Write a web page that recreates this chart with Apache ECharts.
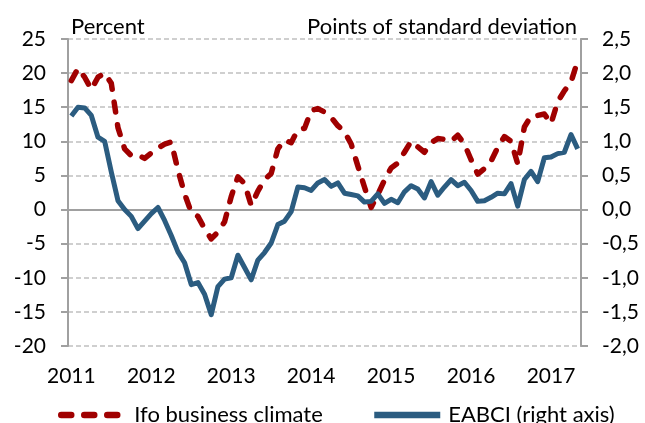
<!DOCTYPE html>
<html>
<head>
<meta charset="utf-8">
<script src="https://cdn.jsdelivr.net/npm/echarts@6/dist/echarts.min.js"></script>
<style>
  html, body { margin: 0; padding: 0; background: #fff; }
  #chart { width: 645px; height: 423px; }
</style>
</head>
<body>
<div id="chart"></div>
<script>
// monthly, Jan 2011 - May 2017
const years = ["2011", "2012", "2013", "2014", "2015", "2016", "2017"];
const months = [];
years.forEach((y) => {
  for (let m = 1; m <= 12; m++) {
    if (months.length < 77) months.push(y + "-" + (m < 10 ? "0" + m : m));
  }
});

// Ifo business climate, percent (left axis)
const ifo = [
  18.9, 20.7, 19.4, 17.6, 19.4, 20.0, 18.5, 12.0, 8.9, 7.9, 8.0, 7.5,
  8.3, 9.0, 9.6, 9.9, 5.8, 2.3, -0.4, -1.0, -2.8, -4.3, -3.3, -1.8,
  1.9, 4.8, 3.8, 0.6, 2.7, 4.4, 5.3, 8.9, 10.2, 9.8, 11.7, 11.9,
  14.5, 14.8, 14.3, 13.5, 12.3, 11.4, 9.6, 6.4, 3.3, 0.3, 2.2, 4.3,
  6.1, 6.8, 8.4, 10.0, 9.2, 8.4, 9.8, 10.4, 10.3, 10.0, 10.9, 9.6,
  7.3, 5.2, 6.0, 7.1, 9.1, 10.7, 10.0, 6.7, 12.1, 13.7, 13.8, 14.0,
  12.6, 15.8, 17.4, 18.7, 21.8,
];

// EABCI, points of standard deviation (right axis)
const eabci = [
  1.37, 1.50, 1.49, 1.38, 1.06, 1.00, 0.55, 0.13, 0.00, -0.10, -0.28, -0.17,
  -0.06, 0.03, -0.16, -0.38, -0.62, -0.78, -1.10, -1.07, -1.24, -1.54, -1.13, -1.02,
  -1.00, -0.67, -0.85, -1.03, -0.74, -0.63, -0.49, -0.22, -0.17, -0.03, 0.33, 0.32,
  0.28, 0.39, 0.44, 0.34, 0.39, 0.24, 0.22, 0.20, 0.11, 0.12, 0.23, 0.09,
  0.15, 0.10, 0.26, 0.35, 0.30, 0.17, 0.41, 0.21, 0.33, 0.44, 0.35, 0.40,
  0.28, 0.12, 0.13, 0.18, 0.24, 0.23, 0.38, 0.05, 0.44, 0.56, 0.41, 0.76,
  0.77, 0.82, 0.84, 1.10, 0.89,
];

const axisGray = "#a0a0a0";
const font = "Lato";

const chart = echarts.init(document.getElementById("chart"));

const option = {
  animation: false,
  textStyle: { fontFamily: font, color: "#000" },
  grid: { left: 68, right: 64, top: 39, bottom: 77 },
  graphic: [
    {
      type: "text",
      left: 71,
      top: 16,
      style: { text: "Percent", font: "22px " + font, fill: "#000" },
    },
    {
      type: "text",
      right: 68,
      top: 16,
      style: { text: "Points of standard deviation", font: "22px " + font, fill: "#000" },
    },
  ],
  legend: [
    {
      left: 58,
      top: 404,
      padding: 0,
      itemWidth: 56,
      itemHeight: 14,
      data: ["Ifo business climate"],
      itemStyle: { opacity: 0 },
      lineStyle: { width: 6.5 },
      textStyle: { fontSize: 22, color: "#000", padding: [0, 0, 0, 12] },
    },
    {
      left: 371,
      top: 404,
      padding: 0,
      itemWidth: 66,
      itemHeight: 14,
      data: ["EABCI (right axis)"],
      itemStyle: { opacity: 0 },
      lineStyle: { width: 6.5 },
      textStyle: { fontSize: 22, color: "#000", padding: [0, 0, 0, 3] },
    },
  ],
  xAxis: [
    {
      type: "category",
      data: months,
      boundaryGap: true,
      axisLine: { onZero: true, lineStyle: { color: axisGray, width: 2 } },
      axisTick: { interval: 11, length: 8, lineStyle: { color: axisGray, width: 2 } },
      axisLabel: { show: false },
    },
    {
      type: "category",
      data: months,
      position: "bottom",
      boundaryGap: true,
      axisLine: { show: false, onZero: false },
      axisTick: { show: false },
      axisLabel: {
        interval: 11,
        margin: 20,
        fontSize: 21,
        color: "#000",
        formatter: (v) => v.slice(0, 4),
      },
    },
  ],
  yAxis: [
    {
      type: "value",
      min: -20,
      max: 25,
      interval: 5,
      axisLine: { show: true, lineStyle: { color: axisGray, width: 2 } },
      axisTick: { show: true, length: 7, lineStyle: { color: axisGray, width: 2 } },
      axisLabel: { margin: 22, fontSize: 21, color: "#000" },
      splitLine: { lineStyle: { color: "#c0c0c0", width: 1.5, type: [5, 3] } },
    },
    {
      type: "value",
      position: "right",
      min: -2,
      max: 2.5,
      interval: 0.5,
      axisLine: { show: true, lineStyle: { color: axisGray, width: 2 } },
      axisTick: { show: true, length: 7, lineStyle: { color: axisGray, width: 2 } },
      axisLabel: {
        margin: 21,
        fontSize: 21,
        color: "#000",
        formatter: (v) => v.toFixed(1).replace(".", ","),
      },
      splitLine: { show: false },
    },
  ],
  series: [
    {
      name: "Ifo business climate",
      type: "line",
      data: ifo,
      yAxisIndex: 0,
      symbol: "none",
      itemStyle: { color: "#a00000" },
      lineStyle: { color: "#a00000", width: 5.5, type: [10, 13], cap: "round", join: "round" },
    },
    {
      name: "EABCI (right axis)",
      type: "line",
      data: eabci,
      yAxisIndex: 1,
      symbol: "none",
      itemStyle: { color: "#2b5c80" },
      lineStyle: { color: "#2b5c80", width: 5, join: "round" },
    },
  ],
};

chart.setOption(option);
</script>
</body>
</html>
